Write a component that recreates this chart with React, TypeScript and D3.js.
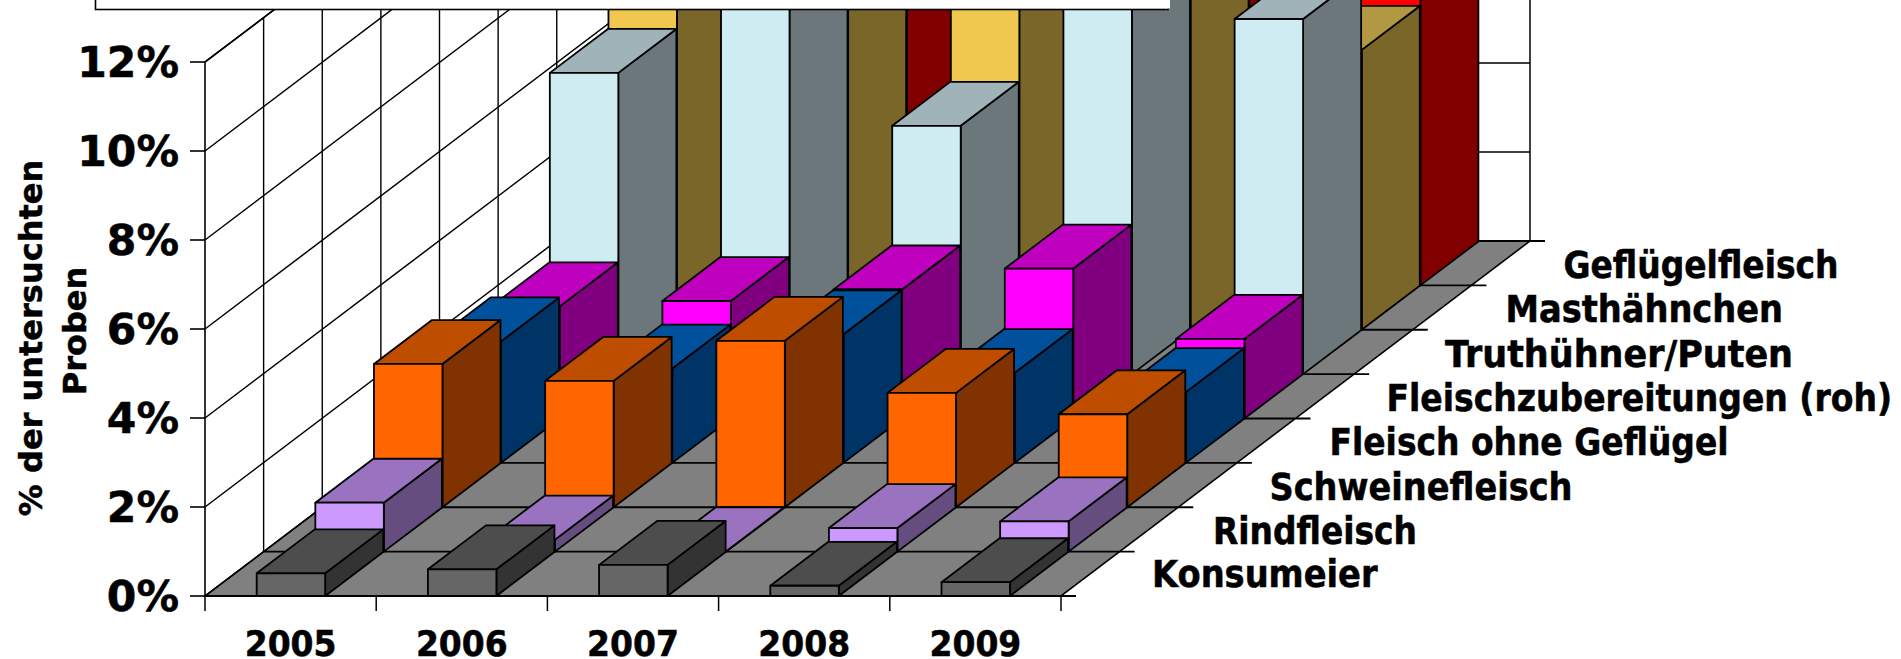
import React from "react";
import * as d3 from "d3";

const years = ["2005", "2006", "2007", "2008", "2009"];
const seriesNames = [
  "Konsumeier",
  "Rindfleisch",
  "Schweinefleisch",
  "Fleisch ohne Geflügel",
  "Fleischzubereitungen (roh)",
  "Truthühner/Puten",
  "Masthähnchen",
  "Geflügelfleisch",
];
const konsumeier = [0.51, 0.6, 0.7, 0.23, 0.31];
const rindfleisch = [1.1, 0.27, 0.01, 0.53, 0.68];
const schweinefleisch = [3.22, 2.84, 3.74, 2.57, 2.09];
const fleischOhne = [2.73, 2.12, 2.89, 2.02, 1.59];
const zubereitungen = [2.52, 2.64, 2.9, 3.37, 1.79];
const truthuehner = [6.77, 9.2, 5.58, 9.5, 7.98];
const masthaehnchen = [9.2, 10.2, 10.5, 10.4, 6.29];
const gefluegel = [10.5, 11.5, 11.5, 11.5, 7.2];
const seriesValues = [konsumeier, rindfleisch, schweinefleisch, fleischOhne, zubereitungen, truthuehner, masthaehnchen, gefluegel];
const frontColors = ["#666666", "#CC99FF", "#FF6600", "#0066CC", "#FF00FF", "#CFECF3", "#F0C850", "#FF0000"];
const topColors = ["#4D4D4D", "#9973BF", "#BF4D00", "#00509C", "#BF00BF", "#A0B3B8", "#B39843", "#BF0000"];
const sideColors = ["#333333", "#664D80", "#803300", "#003366", "#800080", "#6B777B", "#7A6629", "#800000"];
const yTicks = [0, 2, 4, 6, 8, 10, 12];
const labelLefts = [1152, 1213, 1269.5, 1329.5, 1386.5, 1445, 1505.5, 1563.5];
const labelWidths = [225.5, 204, 303, 399, 505.5, 348, 277.5, 275];
const labelBaselines = [587, 543.5, 500, 454.5, 411, 367, 322, 278];

const x0 = 205, plotW = 856, floorY = 596;
const depthDx = 469, depthDy = 355;
const xCat = d3.scaleLinear().domain([0, years.length]).range([x0, x0 + plotW]);
const xDepth = d3.scaleLinear().domain([0, seriesNames.length]).range([0, depthDx]);
const yDepth = d3.scaleLinear().domain([0, seriesNames.length]).range([0, depthDy]);
const yVal = d3.scaleLinear().domain([0, 12]).range([0, 534]);

const pt = (c: number, d: number, v: number): [number, number] => [xCat(c) + xDepth(d), floorY - yDepth(d) - yVal(v)];
const poly = (pts: [number, number][]) => d3.line()(pts)! + "Z";
const barW = 0.4;
const depthFill = 0.99;
const glyphStroke = { stroke: "#000", strokeWidth: 0.5 };

export default function App() {
  const font = "'DejaVu Sans', sans-serif";
  const nD = seriesNames.length, nC = years.length;
  return (
    <svg width={1901} height={659} style={{ position: "absolute", left: 0, top: 0, display: "block" }} fontFamily={font} fontWeight="bold">
      <rect width={1901} height={659} fill="#fff" />
      {/* floor */}
      <path d={poly([pt(0, 0, 0), pt(nC, 0, 0), pt(nC, nD, 0), pt(0, nD, 0)])} fill="#808080" stroke="#000" strokeWidth={1.6} />
      {/* left wall */}
      <path d={d3.line()([pt(0, 0, 0), pt(0, 0, 12), pt(0, nD, 12)])!} fill="none" stroke="#000" strokeWidth={1.6} />
      {d3.range(1, nD + 1).map((d) => (
        <path key={d} d={d3.line()([pt(0, d, 0), pt(0, d, 12)])!} stroke="#000" strokeWidth={1.4} />
      ))}
      {yTicks.map((t) => (
        <path key={t} d={d3.line()([pt(0, 0, t), pt(0, nD, t), pt(nC, nD, t)])!} fill="none" stroke="#000" strokeWidth={1.5} />
      ))}
      {d3.range(1, nC + 1).map((c) => (
        <path key={c} d={d3.line()([pt(c, nD, 0), pt(c, nD, 12)])!} stroke="#000" strokeWidth={1.5} />
      ))}
      {/* depth lines + ticks */}
      {d3.range(0, nD + 1).map((d) => {
        const [a, y] = pt(0, d, 0);
        const [b] = pt(nC, d, 0);
        return <line key={d} x1={a} x2={b + 15} y1={y} y2={y} stroke="#000" strokeWidth={1.8} />;
      })}
      {d3.range(0, nC + 1).map((c) => (
        <line key={c} x1={xCat(c)} x2={xCat(c)} y1={floorY} y2={floorY + 15} stroke="#000" strokeWidth={1.5} />
      ))}
      {yTicks.map((t) => (
        <line key={t} x1={x0 - 15} x2={x0} y1={pt(0, 0, t)[1]} y2={pt(0, 0, t)[1]} stroke="#000" strokeWidth={1.6} />
      ))}
      {/* bars back to front */}
      {d3.range(nD - 1, -1, -1).map((d) =>
        years.map((_, c) => {
          const v = seriesValues[d][c];
          const cl = c + 0.5 - barW / 2 + 0.002, cr = c + 0.5 + barW / 2 + 0.002;
          const d2 = d + depthFill;
          const fbl = pt(cl, d, 0), fbr = pt(cr, d, 0), ftl = pt(cl, d, v), ftr = pt(cr, d, v);
          const btl = pt(cl, d2, v), btr = pt(cr, d2, v), bbr = pt(cr, d2, 0);
          return (
            <g key={`${d}-${c}`} stroke="#000" strokeWidth={1.8} strokeLinejoin="round">
              <path d={poly([fbr, ftr, btr, bbr])} fill={sideColors[d]} />
              <path d={poly([ftl, ftr, btr, btl])} fill={topColors[d]} />
              <path d={poly([fbl, fbr, ftr, ftl])} fill={frontColors[d]} />
            </g>
          );
        })
      )}
      {/* box at the top */}
      <rect x={95.5} y={-10} width={1072.5} height={19.5} fill="#fff" stroke="#000" strokeWidth={1.6} />
      <rect x={1166} y={-2} width={4} height={10.5} fill="#fff" />
      {/* labels */}
      <g fontSize={42.5} textAnchor="end" {...glyphStroke}>
        {yTicks.map((t) => (
          <text key={t} x={179} y={pt(0, 0, t)[1] + 14.5}>{t}%</text>
        ))}
      </g>
      <g fontSize={33} textAnchor="middle" {...glyphStroke}>
        {years.map((y, c) => (
          <text key={y} transform={`translate(${xCat(c + 0.5)},655.5) scale(1,1.09)`}>{y}</text>
        ))}
      </g>
      <g fontSize={33.8} {...glyphStroke}>
        {seriesNames.map((s, i) => (
          <text
            key={s}
            transform={`translate(${labelLefts[i]},${labelBaselines[i]}) scale(1,1.08)`}
            textLength={labelWidths[i]}
            lengthAdjust="spacingAndGlyphs"
          >
            {s}
          </text>
        ))}
      </g>
      <g fontSize={32} textAnchor="middle" {...glyphStroke}>
        <text transform="translate(42,338) rotate(-90)">% der untersuchten</text>
        <text transform="translate(86,331) rotate(-90)">Proben</text>
      </g>
    </svg>
  );
}
